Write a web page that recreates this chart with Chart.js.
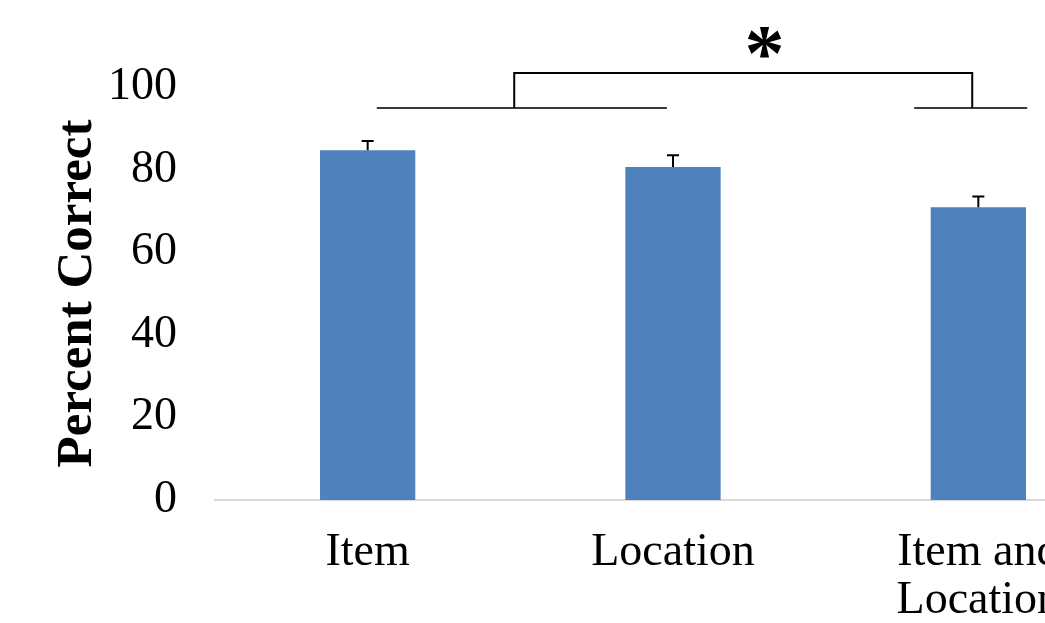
<!DOCTYPE html>
<html>
<head>
<meta charset="utf-8">
<script src="https://cdn.jsdelivr.net/npm/chart.js@4"></script>
<style>
  html, body { margin: 0; padding: 0; background: #fff; overflow: hidden; }
  #wrap { width: 1160px; height: 623px; }
</style>
</head>
<body>
<div id="wrap"><canvas id="c" width="1160" height="623"></canvas></div>
<script>
// Recall accuracy by condition
const categories = ['Item', 'Location', ['Item and', 'Location']];
const percentCorrect = [84.7, 80.6, 70.9];
const stdError = [2.2, 2.9, 2.6];
const yTicks = [0, 20, 40, 60, 80, 100];

// Significance bracket (category index, percent)
const bracketLeft = [0.03, 0.98];    // left group underline
const bracketRight = [1.79, 2.16];   // right group underline
const bracketLow = 94.9;
const bracketHigh = 103.4;
const bracketStems = [0.48, 1.98];
const starPos = [1.3, 110];

const barColor = '#4f81bd';
const serif = '"Liberation Serif", "Times New Roman", serif';

const errorBars = {
  id: 'errorBars',
  afterDatasetsDraw(chart) {
    const {ctx, scales: {x, y}} = chart;
    ctx.save();
    ctx.strokeStyle = '#000';
    ctx.lineWidth = 2;
    percentCorrect.forEach((v, i) => {
      const px = x.getPixelForValue(i);
      const top = y.getPixelForValue(v + stdError[i]);
      const base = y.getPixelForValue(v);
      ctx.beginPath();
      ctx.moveTo(px, base);
      ctx.lineTo(px, top);
      ctx.moveTo(px - 6, top);
      ctx.lineTo(px + 6, top);
      ctx.stroke();
    });
    ctx.restore();
  }
};

const significance = {
  id: 'significance',
  afterDraw(chart) {
    const {ctx, scales: {x, y}} = chart;
    const yl = y.getPixelForValue(bracketLow);
    const yh = y.getPixelForValue(bracketHigh);
    ctx.save();
    ctx.lineWidth = 2;
    ctx.strokeStyle = '#3a3a3a';
    ctx.beginPath();
    ctx.moveTo(x.getPixelForValue(bracketLeft[0]), yl);
    ctx.lineTo(x.getPixelForValue(bracketLeft[1]), yl);
    ctx.moveTo(x.getPixelForValue(bracketRight[0]), yl);
    ctx.lineTo(x.getPixelForValue(bracketRight[1]), yl);
    ctx.stroke();
    ctx.strokeStyle = '#000';
    ctx.beginPath();
    ctx.moveTo(x.getPixelForValue(bracketStems[0]), yl);
    ctx.lineTo(x.getPixelForValue(bracketStems[0]), yh);
    ctx.lineTo(x.getPixelForValue(bracketStems[1]), yh);
    ctx.lineTo(x.getPixelForValue(bracketStems[1]), yl);
    ctx.stroke();
    ctx.fillStyle = '#000';
    ctx.font = 'bold 80px ' + serif;
    ctx.textAlign = 'center';
    ctx.textBaseline = 'middle';
    ctx.fillText('*', x.getPixelForValue(starPos[0]), y.getPixelForValue(starPos[1]) + 14);
    ctx.restore();
  }
};

new Chart(document.getElementById('c'), {
  type: 'bar',
  data: {
    labels: categories,
    datasets: [{
      data: percentCorrect,
      backgroundColor: barColor,
      borderWidth: 0,
      categoryPercentage: 1,
      barPercentage: 0.312
    }]
  },
  options: {
    responsive: false,
    animation: false,
    layout: { padding: { top: 87, right: 29, left: 0, bottom: 0 } },
    plugins: { legend: { display: false }, tooltip: { enabled: false } },
    scales: {
      x: {
        offset: true,
        grid: { display: false, drawTicks: false },
        border: { display: true, color: '#d9d9d9', width: 2 },
        ticks: {
          color: '#000',
          padding: 29,
          maxRotation: 0,
          autoSkip: false,
          font: { family: serif, size: 46, lineHeight: 1.045 }
        },
        afterFit(s) { s.height = 123; }
      },
      y: {
        min: 0,
        max: 100,
        afterBuildTicks(s) { s.ticks = yTicks.map(v => ({ value: v })); },
        grid: { display: false, drawTicks: false },
        border: { display: false },
        ticks: {
          color: '#000',
          padding: 38,
          font: { family: serif, size: 46 }
        },
        title: {
          display: true,
          text: 'Percent Correct',
          color: '#000',
          padding: { top: 47, bottom: 0 },
          font: { family: serif, size: 51, weight: 'bold', lineHeight: 1.2 }
        },
        afterFit(s) { s.width = 215; }
      }
    }
  },
  plugins: [errorBars, significance]
});
</script>
</body>
</html>
